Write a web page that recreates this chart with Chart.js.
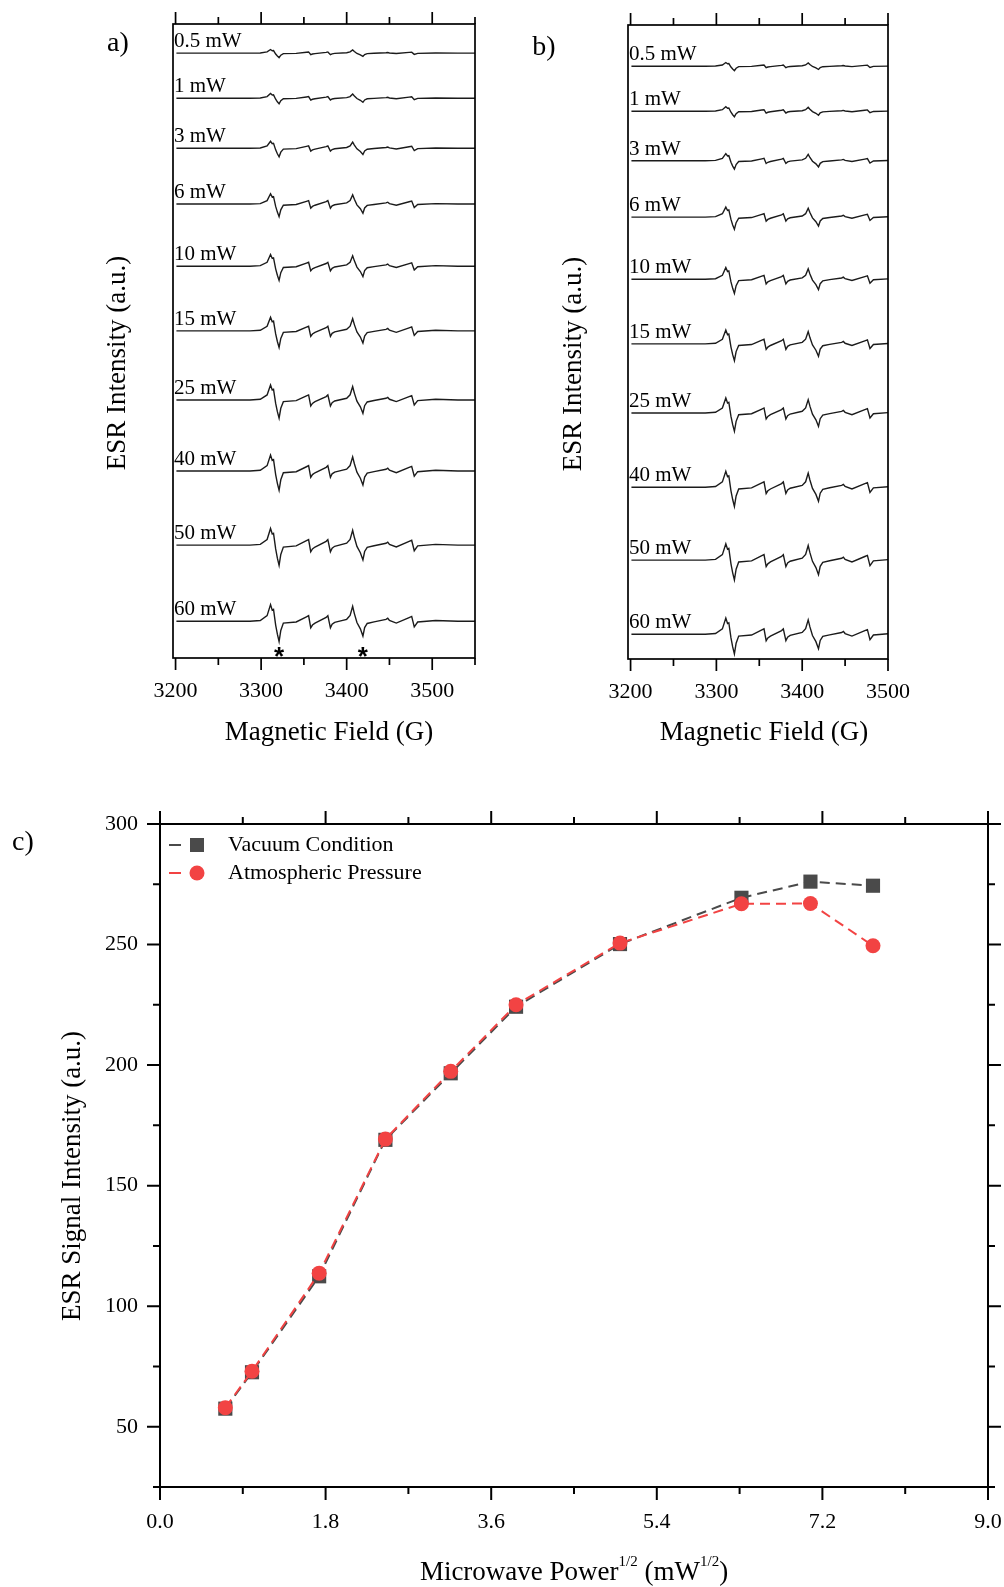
<!DOCTYPE html>
<html>
<head>
<meta charset="utf-8">
<script src="https://cdn.jsdelivr.net/npm/chart.js@4.4.1/dist/chart.umd.min.js"></script>
<style>
  html, body { margin: 0; padding: 0; background: #fff; }
  #page { position: relative; width: 1004px; height: 1587px; overflow: hidden; }
  canvas { position: absolute; }
</style>
</head>
<body>
<div id="page">
  <canvas id="chartA" style="left:0;top:0" width="502" height="760"></canvas>
  <canvas id="chartB" style="left:502px;top:0" width="502" height="760"></canvas>
  <canvas id="chartC" style="left:0;top:760px" width="1004" height="827"></canvas>
</div>
<script>
// ---------------- DATA: spectra (panels a, b) ----------------
const powerLabels = ["0.5 mW", "1 mW", "3 mW", "6 mW", "10 mW", "15 mW", "25 mW", "40 mW", "50 mW", "60 mW"];

// one derivative spectrum (field in G, intensity in a.u.)
const fieldG = [3201, 3287, 3299, 3307, 3311, 3313, 3314.5, 3317, 3319, 3321, 3323, 3326, 3341, 3353, 3355.5,
  3358, 3360, 3363, 3376, 3378, 3381, 3383, 3386, 3400, 3404, 3407, 3409, 3412, 3416, 3419, 3421, 3424, 3432, 3446,
  3448, 3450, 3458, 3473, 3476, 3479, 3483, 3504, 3530, 3550];
const lineShape = [0, 0, 0.12, 0.88, 2.63, 1.75, 1.87, -0.6, -2.05, -3.2, -1.46, -0.3, -0.12, 0.7, 0.88,
  -1.05, -0.6, -0.3, 0.6, 0.88, -1.05, -0.47, -0.18, 0.3, 0.9, 2.34, 1.2, -0.2, -1.2, -2.34, -1.0, -0.35, -0.1, 0.29,
  0.47, 0.12, -0.29, 0.58, 0.76, -0.88, -0.12, 0.12, 0, 0];

// stacking offset (a.u.) and relative amplitude of each trace
const baseA = [95.4, 88.3, 80.4, 71.6, 61.8, 51.6, 40.7, 29.5, 17.8, 5.8];
const gainA = [0.22, 0.28, 0.42, 0.62, 0.7, 0.82, 0.9, 0.95, 1.0, 1.0];
const baseB = [93.5, 86.4, 78.6, 69.7, 59.9, 49.7, 38.8, 27.1, 15.6, 3.9];
const gainB = [0.22, 0.27, 0.42, 0.6, 0.7, 0.83, 0.9, 0.95, 0.98, 0.97];

const fieldTicks = [3200, 3300, 3400, 3500];
const fieldMinorA = [3250, 3350, 3450, 3550];
const fieldMinorB = [3250, 3350, 3450];
const starFields = [3321, 3419];

// ---------------- DATA: panel c ----------------
const sqrtPower = [0.71, 1.0, 1.73, 2.45, 3.16, 3.87, 5.0, 6.32, 7.07, 7.75];
const vacuum = [57.5, 72.6, 112.4, 169.0, 196.6, 224.2, 250.2, 269.4, 276.1, 274.4];
const atmospheric = [57.9, 73.0, 113.7, 169.3, 197.4, 225.0, 250.6, 266.9, 267.0, 249.5];
const powerTicks = [0, 1.8, 3.6, 5.4, 7.2, 9.0];
const powerMinor = [0.9, 2.7, 4.5, 6.3, 8.1];
const signalTicks = [50, 100, 150, 200, 250, 300];
const signalMinor = [25, 75, 125, 175, 225, 275];

const SERIF = "'Liberation Serif', 'Times New Roman', serif";
const GRAY = "#4a4a4a";
const RED = "#f24343";

// frame around plot area + outward ticks
function frameTicks(cfg) {
  return {
    id: "frameTicks",
    afterDraw(chart) {
      const { ctx, chartArea: a } = chart;
      const sx = chart.scales.x, sy = chart.scales.y;
      ctx.save();
      ctx.strokeStyle = "#000";
      ctx.lineWidth = cfg.lineWidth;
      ctx.strokeRect(a.left, a.top, a.right - a.left, a.bottom - a.top);
      const mark = (vals, len, scale, horiz) => {
        vals.forEach((v) => {
          const p = scale.getPixelForValue(v);
          ctx.beginPath();
          if (horiz) {
            ctx.moveTo(p, a.bottom); ctx.lineTo(p, a.bottom + len);
            ctx.moveTo(p, a.top); ctx.lineTo(p, a.top - len);
          } else {
            ctx.moveTo(a.left, p); ctx.lineTo(a.left - len, p);
            ctx.moveTo(a.right, p); ctx.lineTo(a.right + len, p);
          }
          ctx.stroke();
        });
      };
      mark(cfg.xMajor, cfg.major, sx, true);
      mark(cfg.xMinor, cfg.minor, sx, true);
      if (cfg.yMajor) {
        mark(cfg.yMajor, cfg.major, sy, false);
        mark(cfg.yMinor, cfg.minor, sy, false);
      }
      ctx.restore();
    },
  };
}

// free text (titles, panel letters); fn gets (ctx, chart)
function textLayer(fn) {
  return {
    id: "textLayer",
    afterDraw(chart) {
      const ctx = chart.ctx;
      ctx.save();
      ctx.fillStyle = "#000";
      fn(ctx, chart);
      ctx.restore();
    },
  };
}

function rotText(ctx, txt, x, y, font) {
  ctx.save();
  ctx.translate(x, y);
  ctx.rotate(-Math.PI / 2);
  ctx.font = font;
  ctx.textAlign = "center";
  ctx.textBaseline = "middle";
  ctx.fillText(txt, 0, 0);
  ctx.restore();
}

function plainText(ctx, txt, x, y, font, align) {
  ctx.font = font;
  ctx.textAlign = align || "center";
  ctx.textBaseline = "middle";
  ctx.fillText(txt, x, y);
}

// ---------------- SPECTRA ----------------
function spectrumChart(id, bases, gains, xMax, minor, pad, axisH, txt) {
  const datasets = bases.map((b, i) => ({
    data: fieldG.map((g, k) => ({ x: g, y: b + gains[i] * lineShape[k] })),
    borderColor: "#1b1b1b",
    borderWidth: 1.4,
    pointRadius: 0,
    tension: 0,
    fill: false,
  }));

  return new Chart(document.getElementById(id), {
    type: "line",
    data: { datasets },
    options: {
      responsive: false,
      animation: false,
      devicePixelRatio: 1,
      events: [],
      layout: { padding: { left: pad.left, top: pad.top, right: pad.right, bottom: 0 } },
      plugins: { legend: { display: false }, tooltip: { enabled: false } },
      scales: {
        x: {
          type: "linear",
          min: 3197,
          max: xMax,
          grid: { display: false, drawTicks: false },
          border: { display: false },
          afterBuildTicks: (s) => { s.ticks = fieldTicks.map((v) => ({ value: v })); },
          afterFit: (s) => { s.height = axisH; s.paddingLeft = 0; s.paddingRight = 0; },
          ticks: {
            padding: 20,
            autoSkip: false,
            maxRotation: 0,
            color: "#000",
            font: { family: SERIF, size: 22 },
            callback: (v) => String(v),
          },
        },
        y: { display: false, min: 0, max: 100 },
      },
    },
    plugins: [
      frameTicks({ lineWidth: 1.7, major: 12, minor: 7, xMajor: fieldTicks, xMinor: minor }),
      textLayer((ctx, chart) => {
        const a = chart.chartArea;
        const sy = chart.scales.y;
        ctx.font = "21px " + SERIF;
        ctx.textAlign = "left";
        ctx.textBaseline = "alphabetic";
        bases.forEach((b, i) => {
          ctx.fillText(powerLabels[i], a.left + 1, sy.getPixelForValue(b) - 6);
        });
        txt(ctx, chart);
      }),
    ],
  });
}

spectrumChart("chartA", baseA, gainA, 3550, fieldMinorA, { left: 173, top: 24, right: 27 }, 102, (ctx, chart) => {
  const a = chart.chartArea;
  const sx = chart.scales.x;
  ctx.font = "bold 26px 'Liberation Sans', sans-serif";
  ctx.textAlign = "center";
  ctx.textBaseline = "alphabetic";
  starFields.forEach((f) => ctx.fillText("*", sx.getPixelForValue(f), a.bottom + 7));
  rotText(ctx, "ESR Intensity (a.u.)", 118, 363, "27px " + SERIF);
  plainText(ctx, "Magnetic Field (G)", 329, 733, "27px " + SERIF);
  plainText(ctx, "a)", 118, 44, "28px " + SERIF);
});

spectrumChart("chartB", baseB, gainB, 3500, fieldMinorB, { left: 126, top: 25, right: 116 }, 101, (ctx) => {
  rotText(ctx, "ESR Intensity (a.u.)", 72, 364, "27px " + SERIF);
  plainText(ctx, "Magnetic Field (G)", 262, 733, "27px " + SERIF);
  plainText(ctx, "b)", 42, 48, "28px " + SERIF);
});

// ---------------- PANEL C ----------------
const seriesC = [
  { label: "Vacuum Condition", values: vacuum, color: GRAY, style: "rect", radius: 10 },
  { label: "Atmospheric Pressure", values: atmospheric, color: RED, style: "circle", radius: 7.5 },
];

new Chart(document.getElementById("chartC"), {
  type: "line",
  data: {
    datasets: seriesC.map((s, i) => ({
      label: s.label,
      data: sqrtPower.map((x, k) => ({ x, y: s.values[k] })),
      borderColor: s.color,
      backgroundColor: s.color,
      borderWidth: 2,
      borderDash: [10, 6],
      pointStyle: s.style,
      pointRadius: s.radius,
      pointBackgroundColor: s.color,
      pointBorderColor: s.color,
      pointBorderWidth: 0,
      tension: 0,
      fill: false,
      order: seriesC.length - i,
    })),
  },
  options: {
    responsive: false,
    animation: false,
    devicePixelRatio: 1,
    events: [],
    layout: { padding: { left: 0, top: 64, right: 16, bottom: 0 } },
    plugins: { legend: { display: false }, tooltip: { enabled: false } },
    scales: {
      x: {
        type: "linear",
        min: 0,
        max: 9,
        grid: { display: false, drawTicks: false },
        border: { display: false },
        afterBuildTicks: (s) => { s.ticks = powerTicks.map((v) => ({ value: v })); },
        afterFit: (s) => { s.height = 100; s.paddingLeft = 0; s.paddingRight = 0; },
        ticks: {
          padding: 22,
          autoSkip: false,
          maxRotation: 0,
          color: "#000",
          font: { family: SERIF, size: 22 },
          callback: (v) => Number(v).toFixed(1),
        },
      },
      y: {
        min: 25,
        max: 300,
        grid: { display: false, drawTicks: false },
        border: { display: false },
        afterBuildTicks: (s) => { s.ticks = signalTicks.map((v) => ({ value: v })); },
        afterFit: (s) => { s.width = 160; s.paddingTop = 0; s.paddingBottom = 0; },
        ticks: {
          padding: 22,
          autoSkip: false,
          color: "#000",
          font: { family: SERIF, size: 22 },
          callback: (v) => String(v),
        },
      },
    },
  },
  plugins: [
    frameTicks({ lineWidth: 2, major: 13, minor: 7, xMajor: powerTicks, xMinor: powerMinor, yMajor: signalTicks, yMinor: signalMinor }),
    textLayer((ctx, chart) => {
      // legend
      seriesC.forEach((s, i) => {
        const y = 85 + i * 28;
        ctx.strokeStyle = s.color;
        ctx.fillStyle = s.color;
        ctx.lineWidth = 2;
        ctx.beginPath();
        ctx.moveTo(169, y);
        ctx.lineTo(181, y);
        ctx.stroke();
        if (s.style === "rect") {
          ctx.fillRect(190, y - 7, 14, 14);
        } else {
          ctx.beginPath();
          ctx.arc(197, y, 7.5, 0, Math.PI * 2);
          ctx.fill();
        }
        ctx.fillStyle = "#000";
        plainText(ctx, s.label, 228, y, "22px " + SERIF, "left");
      });

      rotText(ctx, "ESR Signal Intensity (a.u.)", 73, 416, "27px " + SERIF);
      plainText(ctx, "c)", 23, 83, "28px " + SERIF);

      // x title with superscripts
      const parts = [
        { t: "Microwave Power", sup: false },
        { t: "1/2", sup: true },
        { t: " (mW", sup: false },
        { t: "1/2", sup: true },
        { t: ")", sup: false },
      ];
      const mainFont = "27px " + SERIF;
      const supFont = "15px " + SERIF;
      let total = 0;
      parts.forEach((p) => {
        ctx.font = p.sup ? supFont : mainFont;
        p.w = ctx.measureText(p.t).width;
        total += p.w;
      });
      let x = 574 - total / 2;
      ctx.textAlign = "left";
      ctx.textBaseline = "middle";
      parts.forEach((p) => {
        ctx.font = p.sup ? supFont : mainFont;
        ctx.fillText(p.t, x, p.sup ? 802 : 813);
        x += p.w;
      });
    }),
  ],
});
</script>
</body>
</html>
